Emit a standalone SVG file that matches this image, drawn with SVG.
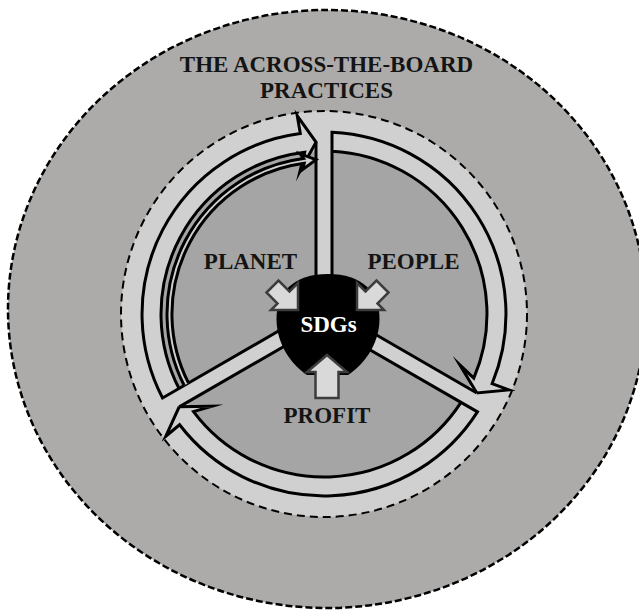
<svg xmlns="http://www.w3.org/2000/svg" width="639" height="610" viewBox="0 0 639 610">
<style>
.t{font-family:"Liberation Serif","Times New Roman",serif;font-weight:bold;font-size:23px;fill:#141414;text-anchor:middle}
.band{fill:#d1d0d1;stroke:none}
.edge{fill:none;stroke:#000;stroke-width:3;stroke-linejoin:miter;stroke-miterlimit:10}
.blk{fill:#d9d9d9;stroke:#3c3c3c;stroke-width:2.5;stroke-linejoin:miter}
</style>
<defs>
<g id="wheelArrow">
<path class="band" d="M316,290 L316,142.2 L332,132.2 A182 182 0 0 1 492.1,383.7 L509,389.9 L476.8,393 L459.8,364.8 L473.8,378.2 A163 163 0 0 0 332,151.2 L332,290 Z"/>
<path class="edge" d="M316,290 L316,142.2 M332,290 L332,132.2 A182 182 0 0 1 492.1,383.7 L509,389.9 L476.8,393 L459.8,364.8 L473.8,378.2 A163 163 0 0 0 332,151.2"/>
</g>
</defs>
<g id="outer-practices">
<ellipse cx="327" cy="309" rx="319" ry="299" fill="#acabaa" stroke="#000" stroke-width="2.5" stroke-dasharray="7 3"/>
<text class="t" x="326.5" y="72">THE ACROSS-THE-BOARD</text>
<text class="t" x="326.5" y="98">PRACTICES</text>
</g>
<g id="ring">
<circle cx="324" cy="314" r="203" fill="#d1d0d1" stroke="#000" stroke-width="2" stroke-dasharray="8 5"/>
<circle cx="324" cy="314" r="163" fill="#a5a5a5"/>
</g>
<g id="connectors">
<use href="#wheelArrow"/>
<use href="#wheelArrow" transform="rotate(120 324 314)"/>
<use href="#wheelArrow" transform="rotate(240 324 314)"/>
<path class="band" d="M184.2,385.5 A157 157 0 0 1 303.5,158.4 L300.1,153.8 L316,159.7 L302.4,169.6 L304.2,163.3 A152 152 0 0 0 188.5,383 Z"/>
<path class="edge" stroke-width="2.5" d="M184.2,385.5 A157 157 0 0 1 303.5,158.4 L300.1,153.8 L316,159.7 L302.4,169.6 L304.2,163.3 A152 152 0 0 0 188.5,383"/>
</g>
<g id="planet"><text class="t" x="250.5" y="269">PLANET</text></g>
<g id="people"><text class="t" x="413.5" y="269">PEOPLE</text></g>
<g id="profit"><text class="t" x="327" y="423">PROFIT</text></g>
<g id="sdgs">
<path fill="#000" d="M328,274 C362,274 380,292 379.5,320 C379,346 362,366 348,375 L307,375 C293,366 277,346 276.5,320 C276,292 294,274 328,274 Z"/>
<polygon class="blk" points="298,310 298,283 289.5,291.5 278.5,280.5 266.5,292.5 277.5,303.5 271,310"/>
<polygon class="blk" points="357,310 357,283 365.5,291.5 376.5,280.5 388.5,292.5 377.5,303.5 384,310"/>
<polygon class="blk" points="327,355 347,372 338.5,372 338.5,398 315.5,398 315.5,372 307,372"/>
<text class="t" x="328.5" y="332" style="fill:#fff">SDGs</text>
</g>
</svg>
